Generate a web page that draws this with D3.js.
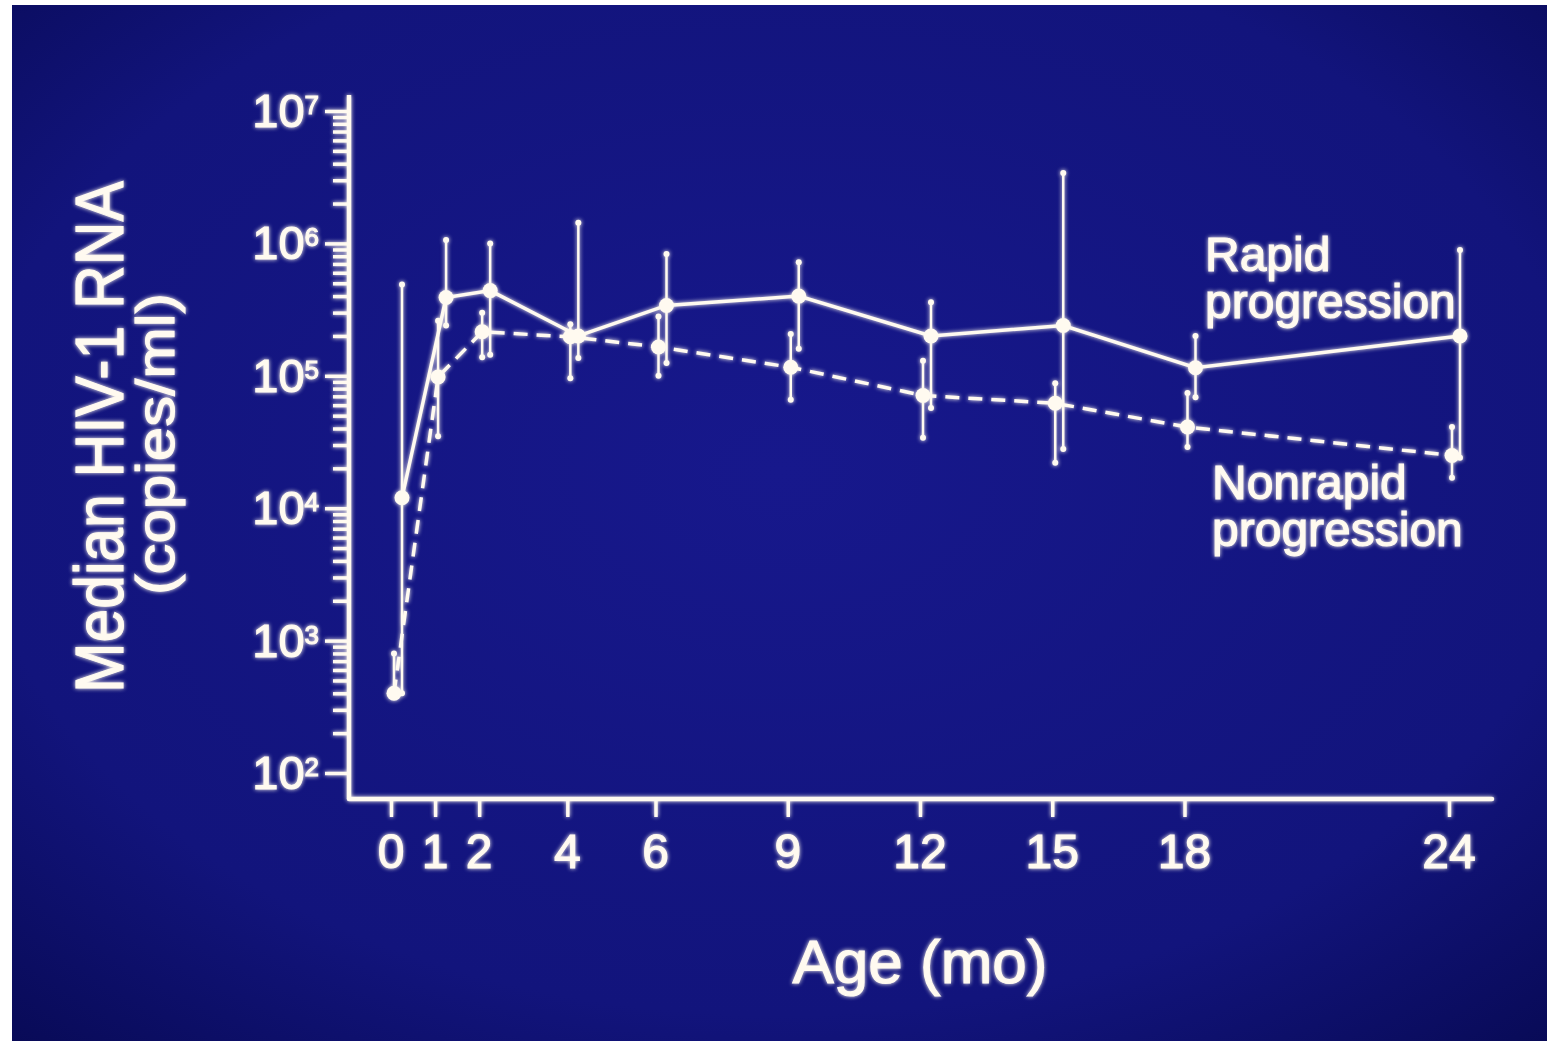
<!DOCTYPE html>
<html>
<head>
<meta charset="utf-8">
<script src="https://cdn.jsdelivr.net/npm/d3@7/dist/d3.min.js"></script>
<style>
  html, body { margin: 0; padding: 0; background: #ffffff; }
  svg { display: block; }
  text {
    font-family: "Liberation Sans", Arial, Helvetica, sans-serif;
    fill: #fffaf0;
    stroke: #fffaf0;
    stroke-width: 1.1px;
  }
</style>
</head>
<body>
<div id="chart"></div>
<script>
// ── Data ──────────────────────────────────────────────────────────────────────
var AGE_TICKS = [0, 1, 2, 4, 6, 9, 12, 15, 18, 24];
var Y_DECADES = [2, 3, 4, 5, 6, 7];

// Rapid progression (solid line)
var rapidAge    = [0, 1, 2, 4, 6, 9, 12, 15, 18, 24];
var rapidMedian = [12000, 390000, 440000, 200000, 340000, 400000, 200000, 240000, 115000, 200000];
var rapidHigh   = [490000, 1060000, 1000000, 1430000, 830000, 720000, 360000, 3400000, 200000, 890000];
var rapidLow    = [400, 240000, 144000, 136000, 125000, 160000, 57000, 28000, 69000, 24000];

// Nonrapid progression (dashed line)
var nonrapidAge    = [0, 1, 2, 4, 6, 9, 12, 15, 18, 24];
var nonrapidMedian = [400, 98000, 215000, 197000, 165000, 116000, 71000, 62000, 41000, 25000];
var nonrapidHigh   = [800, 260000, 300000, 245000, 280000, 207000, 130000, 88000, 74000, 41000];
var nonrapidLow    = [380, 35000, 138000, 96000, 100000, 66000, 34000, 22000, 29000, 17000];

// ── Layout ────────────────────────────────────────────────────────────────────
var W = 1547, H = 1042;
var INK = '#fffaf0';
var AXIS_X = 349, AXIS_Y = 799;

var svg = d3.select('#chart').append('svg')
  .attr('width', W)
  .attr('height', H);

var defs = svg.append('defs');

// slide background: navy, a bit darker toward the corners
var grad = defs.append('radialGradient')
  .attr('id', 'bg')
  .attr('cx', '50%').attr('cy', '45%').attr('r', '75%');
grad.append('stop').attr('offset', '0%').attr('stop-color', '#17188c');
grad.append('stop').attr('offset', '70%').attr('stop-color', '#12147c');
grad.append('stop').attr('offset', '100%').attr('stop-color', '#080a56');

// soft glow like a projected slide
var glow = defs.append('filter')
  .attr('id', 'glow')
  .attr('x', '-20%').attr('y', '-20%').attr('width', '140%').attr('height', '140%');
glow.append('feGaussianBlur').attr('in', 'SourceGraphic').attr('stdDeviation', 2.2).attr('result', 'blur');
var merge = glow.append('feMerge');
merge.append('feMergeNode').attr('in', 'blur');
merge.append('feMergeNode').attr('in', 'SourceGraphic');

svg.append('rect')
  .attr('x', 12).attr('y', 5)
  .attr('width', W - 12).attr('height', H - 6)
  .attr('fill', 'url(#bg)');

var g = svg.append('g').attr('filter', 'url(#glow)');

// ── Scales ────────────────────────────────────────────────────────────────────
var x = d3.scaleLinear().domain([0, 24]).range([391, 1449]);
var y = d3.scaleLog().domain([1e2, 1e7]).range([773, 111]);

// per-series horizontal dodge (px), the slide staggers the two groups
var RAPID_DX = 11, NONRAPID_DX = 3;

// ── Axes ──────────────────────────────────────────────────────────────────────
var minorVals = [];
Y_DECADES.slice(0, -1).forEach(function(p) {
  for (var k = 2; k <= 9; k++) minorVals.push(k * Math.pow(10, p));
});
var majorVals = Y_DECADES.map(function(p) { return Math.pow(10, p); });

function styleAxis(sel) {
  sel.select('.domain').remove();
  sel.selectAll('.tick line').attr('stroke', INK).attr('stroke-width', 3.5);
  sel.selectAll('.tick text').remove();
}

g.append('g')
  .attr('transform', 'translate(' + AXIS_X + ',0)')
  .call(d3.axisLeft(y).tickValues(minorVals).tickSize(16))
  .call(styleAxis);

g.append('g')
  .attr('transform', 'translate(' + AXIS_X + ',0)')
  .call(d3.axisLeft(y).tickValues(majorVals).tickSize(24))
  .call(styleAxis);

g.append('g')
  .attr('transform', 'translate(0,' + AXIS_Y + ')')
  .call(d3.axisBottom(x).tickValues(AGE_TICKS).tickSize(18))
  .call(styleAxis);

// axis lines
g.append('line')
  .attr('x1', AXIS_X).attr('x2', AXIS_X)
  .attr('y1', 95).attr('y2', AXIS_Y)
  .attr('stroke', INK).attr('stroke-width', 4.5);
g.append('line')
  .attr('x1', AXIS_X).attr('x2', 1492)
  .attr('y1', AXIS_Y).attr('y2', AXIS_Y)
  .attr('stroke', INK).attr('stroke-width', 4.5)
  .attr('stroke-linecap', 'round');

// y tick labels: 10 with superscript exponent
var yLab = g.append('g').selectAll('text')
  .data(Y_DECADES)
  .enter()
  .append('text')
  .attr('x', 319)
  .attr('y', function(p) { return y(Math.pow(10, p)) + 16; })
  .attr('text-anchor', 'end')
  .style('font-size', '47px');
yLab.append('tspan').text('10');
yLab.append('tspan')
  .attr('dy', -13)
  .style('font-size', '26px')
  .text(function(p) { return p; });

// x tick labels
g.append('g').selectAll('text')
  .data(AGE_TICKS)
  .enter()
  .append('text')
  .attr('x', function(d) { return x(d); })
  .attr('y', 868)
  .attr('text-anchor', 'middle')
  .style('font-size', '48px')
  .text(function(d) { return d; });

// axis titles
g.append('text')
  .attr('x', 920).attr('y', 983)
  .attr('text-anchor', 'middle')
  .style('font-size', '62px')
  .text('Age (mo)');

// rotated title, the slide squeezes it a little along its length
g.append('text')
  .attr('transform', 'translate(123,437) rotate(-90)')
  .attr('text-anchor', 'middle')
  .attr('textLength', 512)
  .attr('lengthAdjust', 'spacingAndGlyphs')
  .style('font-size', '68px')
  .text('Median HIV-1 RNA');
g.append('text')
  .attr('transform', 'translate(174,444) rotate(-90)')
  .attr('text-anchor', 'middle')
  .attr('textLength', 302)
  .attr('lengthAdjust', 'spacingAndGlyphs')
  .style('font-size', '54px')
  .text('(copies/ml)');

// ── Series ────────────────────────────────────────────────────────────────────
function drawSeries(ages, med, hi, lo, dx, dash) {
  var pts = ages.map(function(a, i) {
    return { x: x(a) + dx, m: med[i], h: hi[i], l: lo[i] };
  });

  var line = d3.line()
    .x(function(d) { return d.x; })
    .y(function(d) { return y(d.m); });

  g.append('path')
    .datum(pts)
    .attr('d', line)
    .attr('fill', 'none')
    .attr('stroke', INK)
    .attr('stroke-width', 3.5)
    .attr('stroke-dasharray', dash ? '14,9' : null);

  var grp = g.append('g');
  // error bars
  grp.selectAll('line.err')
    .data(pts)
    .enter()
    .append('line')
    .attr('class', 'err')
    .attr('x1', function(d) { return d.x; })
    .attr('x2', function(d) { return d.x; })
    .attr('y1', function(d) { return y(d.h); })
    .attr('y2', function(d) { return y(d.l); })
    .attr('stroke', INK)
    .attr('stroke-width', 2.5);
  // little end caps
  var caps = [];
  pts.forEach(function(d) { caps.push({ x: d.x, v: d.h }, { x: d.x, v: d.l }); });
  grp.selectAll('circle.cap')
    .data(caps)
    .enter()
    .append('circle')
    .attr('class', 'cap')
    .attr('cx', function(d) { return d.x; })
    .attr('cy', function(d) { return y(d.v); })
    .attr('r', 3)
    .attr('fill', INK);
  // median markers
  grp.selectAll('circle.pt')
    .data(pts)
    .enter()
    .append('circle')
    .attr('class', 'pt')
    .attr('cx', function(d) { return d.x; })
    .attr('cy', function(d) { return y(d.m); })
    .attr('r', 7.5)
    .attr('fill', INK);
}

drawSeries(nonrapidAge, nonrapidMedian, nonrapidHigh, nonrapidLow, NONRAPID_DX, true);
drawSeries(rapidAge, rapidMedian, rapidHigh, rapidLow, RAPID_DX, false);

// ── Series labels ─────────────────────────────────────────────────────────────
var labels = [
  { lines: ['Rapid', 'progression'], x: 1205, y: 271 },
  { lines: ['Nonrapid', 'progression'], x: 1212, y: 499 }
];
labels.forEach(function(l) {
  l.lines.forEach(function(s, i) {
    g.append('text')
      .attr('x', l.x)
      .attr('y', l.y + i * 47)
      .style('font-size', '48px')
      .text(s);
  });
});
</script>
</body>
</html>
